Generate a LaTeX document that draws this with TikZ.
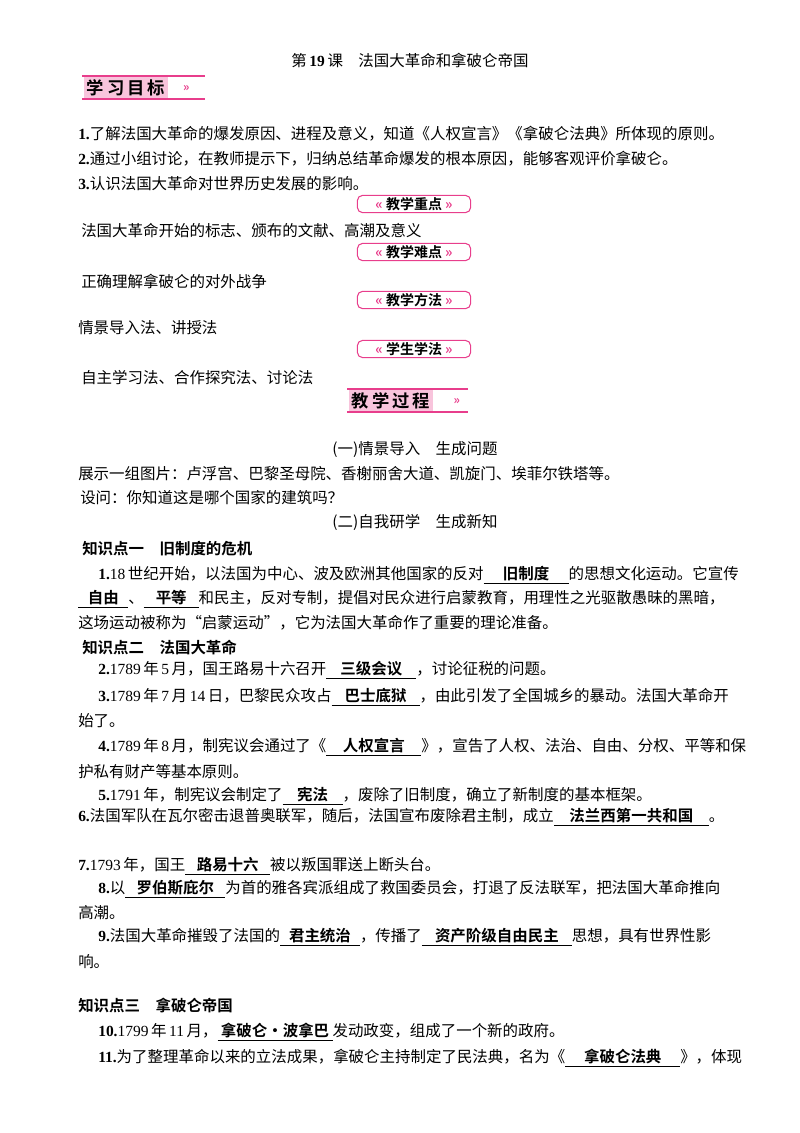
\documentclass[tikz,border=0pt]{standalone}
\usepackage{fontspec}
\setmainfont{Noto Sans CJK SC}[BoldFont={Noto Sans CJK SC Bold}]
\newfontfamily\numfont{Liberation Serif}
\usetikzlibrary{positioning}
\definecolor{my_pink}{RGB}{232, 62, 140}
\definecolor{my_lightpink}{RGB}{248, 196, 220}
\newcommand\blank[2]{\underline{\makebox[\dimexpr #1pt*3/4\relax]{\textbf{#2}}}}
\newcommand\num[1]{{\numfont\bfseries #1}}
\newcommand\yr[1]{{\numfont #1}\,}
\tikzset {
  body/.style = {anchor=west, inner sep=0, font=\fontsize{11.6}{14}\selectfont},
  head/.style = {anchor=center, inner sep=0, font=\fontsize{11.6}{14}\selectfont},
  tag/.style = {draw=my_pink, thick, rounded corners=4pt, inner sep=1.5pt, minimum width=85pt, font=\fontsize{10.5}{12}\bfseries\selectfont},
  bigtag/.style = {fill=my_lightpink, inner sep=2pt, anchor=west, font=\fontsize{13}{14}\bfseries\selectfont},
  rule/.style = {my_pink, thick}
}
\newcommand\smalltag[3]{\node[tag] (#1) at (#2) {\textcolor{my_pink}{«}~#3~\textcolor{my_pink}{»}};}
\begin{document}
\begin{tikzpicture}[x=0.75pt, y=-0.75pt]
  \useasboundingbox (0,0) rectangle (800,1133);

  \node[head] (title) at (410,60) {第\,\num{19}\,课\quad 法国大革命和拿破仑帝国};

  % big headings
  \node[bigtag] (goal) at (84,88) {学\,习\,目\,标};
  \draw[rule] (82,76) -- (205,76) (82,99) -- (205,99);
  \node[my_pink, right=8pt of goal, font=\small\bfseries] (goalarr) {»};
  \node[bigtag] (proc) at (349,401) {教\,学\,过\,程};
  \draw[rule] (347,389) -- (468,389) (347,412) -- (468,412);
  \node[my_pink, right=12pt of proc, font=\small\bfseries] (procarr) {»};

  \node[body] (g1) at (78,134) {\num{1.}了解法国大革命的爆发原因、进程及意义，知道《人权宣言》《拿破仑法典》所体现的原则。};
  \node[body] (g2) at (78,159) {\num{2.}通过小组讨论，在教师提示下，归纳总结革命爆发的根本原因，能够客观评价拿破仑。};
  \node[body] (g3) at (78,184) {\num{3.}认识法国大革命对世界历史发展的影响。};

  \smalltag{key}{414,204}{教学重点}
  \node[body] (keyt) at (81,231) {法国大革命开始的标志、颁布的文献、高潮及意义};
  \smalltag{hard}{414,252}{教学难点}
  \node[body] (hardt) at (81,281) {正确理解拿破仑的对外战争};
  \smalltag{meth}{414,300}{教学方法}
  \node[body] (metht) at (78,328) {情景导入法、讲授法};
  \smalltag{stud}{414,349}{学生学法}
  \node[body] (studt) at (81,378) {自主学习法、合作探究法、讨论法};

  \node[head] (sec1) at (415,450) {(一)情景导入\quad 生成问题};
  \node[body] (s1a) at (78,474) {展示一组图片：卢浮宫、巴黎圣母院、香榭丽舍大道、凯旋门、埃菲尔铁塔等。};
  \node[body] (s1b) at (80,498) {设问：你知道这是哪个国家的建筑吗？};
  \node[head] (sec2) at (415,522) {(二)自我研学\quad 生成新知};

  \node[body, font=\fontsize{11.6}{14}\bfseries\selectfont] (k1) at (82,549) {知识点一\quad 旧制度的危机};
  \node[body] (p1a) at (98,575) {\num{1.}{\numfont 18}\,世纪开始，以法国为中心、波及欧洲其他国家的反对\blank{85}{旧制度}的思想文化运动。它宣传};
  \node[body] (p1b) at (78,599) {\blank{50}{自由}、\blank{55}{平等}和民主，反对专制，提倡对民众进行启蒙教育，用理性之光驱散愚昧的黑暗，};
  \node[body] (p1c) at (78,623) {这场运动被称为“启蒙运动”，它为法国大革命作了重要的理论准备。};

  \node[body, font=\fontsize{11.6}{14}\bfseries\selectfont] (k2) at (82,647) {知识点二\quad 法国大革命};
  \node[body] (p2) at (98,670) {\num{2.}\yr{1789}年\,\yr{5}月，国王路易十六召开\blank{90}{三级会议}，讨论征税的问题。};
  \node[body] (p3a) at (98,697) {\num{3.}\yr{1789}年\,\yr{7}月\,\yr{14}日，巴黎民众攻占\blank{88}{巴士底狱}，由此引发了全国城乡的暴动。法国大革命开};
  \node[body] (p3b) at (78,721) {始了。};
  \node[body] (p4a) at (98,747) {\num{4.}\yr{1789}年\,\yr{8}月，制宪议会通过了《\blank{95}{人权宣言}》，宣告了人权、法治、自由、分权、平等和保};
  \node[body] (p4b) at (78,772) {护私有财产等基本原则。};
  \node[body] (p5) at (98,796) {\num{5.}\yr{1791}年，制宪议会制定了\blank{60}{宪法}，废除了旧制度，确立了新制度的基本框架。};
  \node[body] (p6) at (78,817) {\num{6.}法国军队在瓦尔密击退普奥联军，随后，法国宣布废除君主制，成立\blank{155}{法兰西第一共和国}。};
  \node[body] (p7) at (78,866) {\num{7.}\yr{1793}年，国王\blank{85}{路易十六}被以叛国罪送上断头台。};
  \node[body] (p8a) at (98,889) {\num{8.}以\blank{100}{罗伯斯庇尔}为首的雅各宾派组成了救国委员会，打退了反法联军，把法国大革命推向};
  \node[body] (p8b) at (78,913) {高潮。};
  \node[body] (p9a) at (98,937) {\num{9.}法国大革命摧毁了法国的\blank{80}{君主统治}，传播了\blank{150}{资产阶级自由民主}思想，具有世界性影};
  \node[body] (p9b) at (78,962) {响。};

  \node[body, font=\fontsize{11.6}{14}\bfseries\selectfont] (k3) at (78,1005) {知识点三\quad 拿破仑帝国};
  \node[body] (p10) at (98,1032) {\num{10.}\yr{1799}年\,\yr{11}月，\blank{115}{拿破仑·波拿巴}发动政变，组成了一个新的政府。};
  \node[body] (p11) at (98,1058) {\num{11.}为了整理革命以来的立法成果，拿破仑主持制定了民法典，名为《\blank{115}{拿破仑法典}》，体现};
\end{tikzpicture}
\end{document}
